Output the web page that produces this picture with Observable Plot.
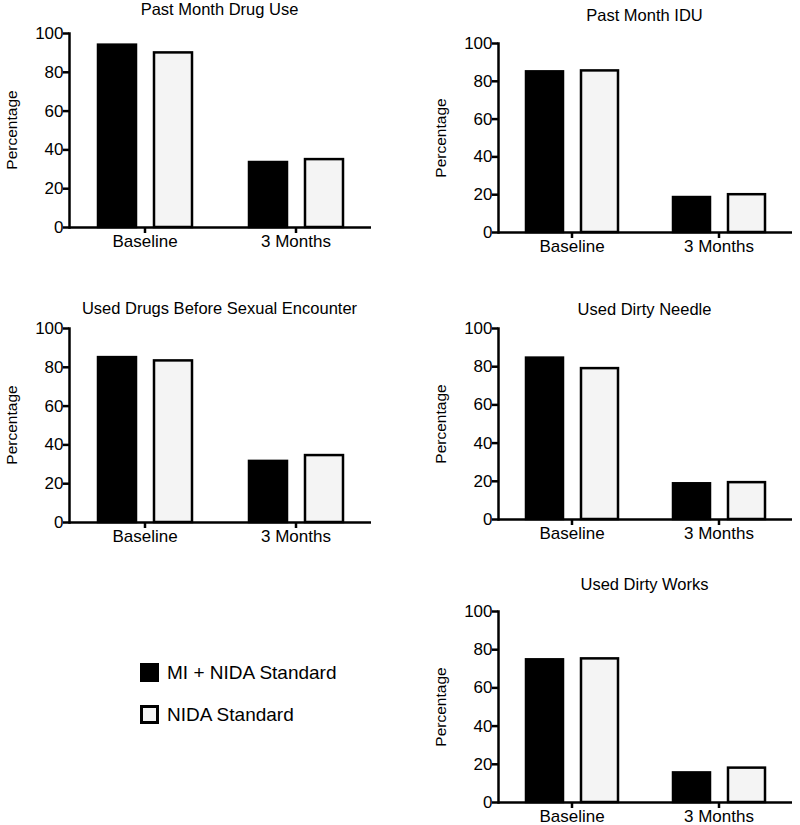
<!DOCTYPE html>
<html><head><meta charset="utf-8">
<script src="https://cdn.jsdelivr.net/npm/d3@7"></script>
<script src="https://cdn.jsdelivr.net/npm/@observablehq/plot@0.6"></script>
<style>
body{margin:0;background:#fff;font-family:"Liberation Sans",Arial,sans-serif;color:#000;}
#root{position:relative;width:800px;height:825px;overflow:hidden;}
.abs{position:absolute;}
.title{font-size:16.5px;line-height:16px;white-space:nowrap;transform:translateX(-50%);}
.ylab{font-size:15.5px;line-height:16px;white-space:nowrap;transform:translate(-50%,-50%) rotate(-90deg);}
.leg{font-size:19px;line-height:19px;white-space:nowrap;}
.sw{position:absolute;box-sizing:border-box;}
</style></head><body><div id="root"></div>
<script>
// ---- data ----
const timepoints = ["Baseline", "3 Months"];
const groups = ["MI + NIDA Standard", "NIDA Standard"];
const titles = ["Past Month Drug Use", "Past Month IDU", "Used Drugs Before Sexual Encounter", "Used Dirty Needle", "Used Dirty Works"];
const miValues = [[94, 33.5], [85, 18.5], [85, 31.5], [84.5, 18.7], [74.7, 15.5]];
const nidaValues = [[90, 35], [85.5, 20], [83.3, 34.5], [79, 19.3], [75.2, 18]];
const yTicks = [0, 20, 40, 60, 80, 100];
const yLabel = "Percentage";
const groupFill = ["#000000", "#f4f4f4"];

// ---- layout ----
const layout = [
  {left: 0,   top: 0,   height: 260, ml: 68, mr: 29, mt: 33, mb: 33, titleTop: 0.5},
  {left: 400, top: 0,   height: 260, ml: 97, mr: 8,  mt: 43, mb: 28, titleTop: 6.5},
  {left: 0,   top: 270, height: 280, ml: 68, mr: 29, mt: 58, mb: 28, titleTop: 299.5},
  {left: 400, top: 270, height: 280, ml: 97, mr: 8,  mt: 58, mb: 31, titleTop: 300.5},
  {left: 400, top: 560, height: 265, ml: 97, mr: 8,  mt: 51, mb: 23, titleTop: 575.5}
];

const root = document.getElementById("root");
const font = "Liberation Sans, Arial, sans-serif";

titles.forEach((title, p) => {
  const L = layout[p];
  const data = timepoints.flatMap((t, i) => groups.map((g, j) => ({
    time: t, group: g, value: (j === 0 ? miValues : nidaValues)[p][i]
  })));
  const chart = Plot.plot({
    width: 400, height: L.height,
    marginLeft: L.ml, marginRight: L.mr, marginTop: L.mt, marginBottom: L.mb,
    style: {fontFamily: font, fontSize: "17px", color: "#000", background: "transparent", overflow: "visible"},
    fx: {domain: timepoints, padding: 0, label: null},
    x: {domain: groups, paddingInner: 0.33, paddingOuter: 0.5, axis: null},
    y: {domain: [0, 100]},
    color: {domain: groups, range: groupFill},
    marks: [
      Plot.barY(data, {fx: "time", x: "group", y: "value", fill: "group", stroke: "#000", strokeWidth: 2.5}),
      Plot.ruleY([0], {stroke: "#000", strokeWidth: 2.5}),
      Plot.frame({anchor: "left", facetAnchor: "left", stroke: "#000", strokeWidth: 2.5}),
      Plot.axisY({ticks: yTicks, tickSize: 6, tickPadding: 0, strokeWidth: 2.5, label: null, fontSize: 17}),
      Plot.axisFx({anchor: "bottom", tickSize: 6, tickPadding: 1, strokeWidth: 2.5, label: null, fontSize: 17})
    ]
  });
  chart.classList.add("abs");
  chart.style.left = L.left + "px";
  chart.style.top = L.top + "px";
  root.appendChild(chart);

  const t = document.createElement("div");
  t.className = "abs title";
  t.textContent = title;
  t.style.left = (L.left + (L.ml + 400 - L.mr) / 2) + "px";
  t.style.top = L.titleTop + "px";
  root.appendChild(t);

  const yl = document.createElement("div");
  yl.className = "abs ylab";
  yl.textContent = yLabel;
  yl.style.left = (L.left + L.ml - 56) + "px";
  yl.style.top = (L.top + L.mt + (L.height - L.mt - L.mb) / 2) + "px";
  root.appendChild(yl);
});

// ---- legend ----
groups.forEach((g, j) => {
  const top = [663, 705][j];
  const sw = document.createElement("div");
  sw.className = "sw";
  sw.style.left = "140px"; sw.style.top = top + "px";
  sw.style.width = "19px"; sw.style.height = "19px";
  sw.style.background = groupFill[j];
  sw.style.border = "3px solid #000";
  root.appendChild(sw);
  const tx = document.createElement("div");
  tx.className = "abs leg";
  tx.textContent = g;
  tx.style.left = "167px"; tx.style.top = (top) + "px";
  root.appendChild(tx);
});
</script>
</body></html>
